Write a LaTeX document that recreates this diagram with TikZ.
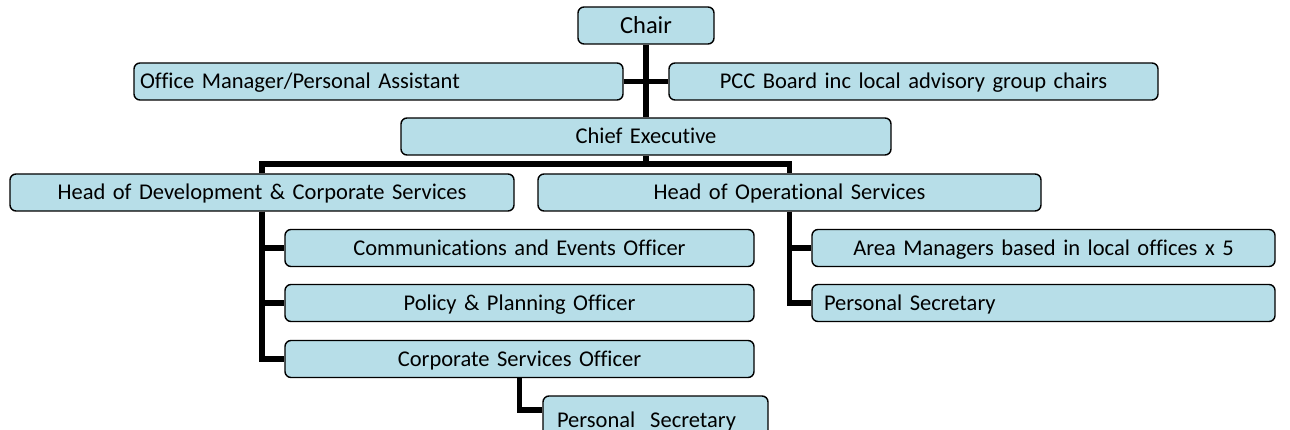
\documentclass[tikz,border=0pt]{standalone}
\usepackage{fontspec}
\setmainfont{Carlito}[Ligatures=NoCommon]
\usepackage{tikz}
\usepackage{xcolor}
\definecolor{orgblue}{HTML}{B7DEE8}
\tikzset{
    org-box/.style = {draw=black, fill=orgblue, line width=1.4pt, rectangle, rounded corners=6pt, inner sep=0pt, minimum height=37pt, text width=#1, align=center, text height=14.5pt, text depth=0pt, font=\fontsize{22.5}{27}\selectfont},
    org-left/.style = {align=left, inner xsep=#1},
    org-link/.style = {draw=black, line width=5.5pt},
}

\begin{document}
\begin{tikzpicture}[x=1pt, y=-1pt]
\useasboundingbox (0,0) rectangle (1290,430);
\clip (0,0) rectangle (1290,430);
\node [org-box=136pt, font=\fontsize{24.5}{29}\selectfont, text height=16pt] (chair) at (646,25.5) {Chair};
\node [org-box=477pt, org-left=6pt] (assistant) at (378.5,81.5) {Office Manager/Personal Assistant};
\node [org-box=489pt] (board) at (913.5,81.5) {PCC Board inc local advisory group chairs};
\node [org-box=490pt] (chief) at (646,136.5) {Chief Executive};
\node [org-box=504pt] (dev-head) at (262,192.5) {Head of Development \& Corporate Services};
\node [org-box=503pt] (ops-head) at (789.5,192.5) {Head of Operational Services};
\node [org-box=469pt] (comms) at (519.5,248) {Communications and Events Officer};
\node [org-box=469pt] (policy) at (519.5,303) {Policy \& Planning Officer};
\node [org-box=469pt] (corp) at (519.5,359) {Corporate Services Officer};
\node [org-box=197pt, org-left=14pt, minimum height=48pt] (corp-sec) at (655.5,420) {Personal\ \ Secretary};
\node [org-box=463pt] (areas) at (1043.5,248) {Area Managers based in local offices x 5};
\node [org-box=439pt, org-left=12pt] (ops-sec) at (1043.5,303) {Personal Secretary};

\coordinate (bus) at (646,164);
\draw [org-link] (chair) -- (chief);
\draw [org-link] (assistant) -- (board);
\draw [org-link] (chief) -- (bus);
\draw [org-link] (dev-head.north) |- (bus) -| (ops-head.north);
\draw [org-link] (dev-head.south) |- (comms.west);
\draw [org-link] (dev-head.south) |- (policy.west);
\draw [org-link] (dev-head.south) |- (corp.west);
\draw [org-link] (ops-head.south) |- (areas.west);
\draw [org-link] (ops-head.south) |- (ops-sec.west);
\draw [org-link] (corp.south) |- ([yshift=10pt]corp-sec.west);
\end{tikzpicture}
\end{document}
